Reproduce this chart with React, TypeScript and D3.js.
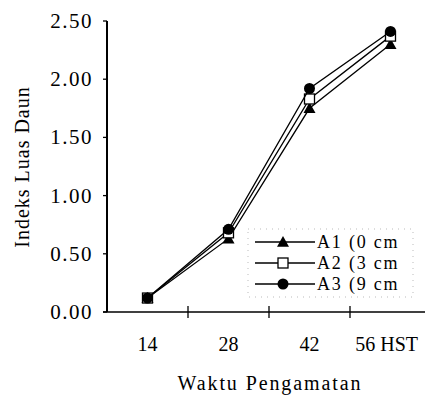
import React from "react";
import * as d3 from "d3";

const categories = ["14", "28", "42", "56 HST"];
const seriesNames = ["A1 (0 cm", "A2 (3 cm", "A3 (9 cm"];
const a1 = [0.12, 0.63, 1.75, 2.3];
const a2 = [0.12, 0.68, 1.83, 2.37];
const a3 = [0.12, 0.71, 1.92, 2.41];
const yTicks = [0, 0.5, 1, 1.5, 2, 2.5];

const W = 425, H = 398;
const x0 = 107, x1 = 431, yBottom = 312, yTop = 21;
const FONT = "Liberation Serif";

export default function App() {
  const x = d3.scaleBand<string>().domain(categories).range([x0, x1]);
  const y = d3.scaleLinear().domain([0, 2.5]).range([yBottom, yTop]);
  const line = d3.line<number>().x((_, i) => x(categories[i])! + x.bandwidth() / 2).y((d) => y(d));
  const series = [a1, a2, a3];
  const marker = (k: number, cx: number, cy: number, key: any) => {
    if (k === 0) {
      const s = 6;
      return <path key={key} d={`M${cx},${cy - s} L${cx + s},${cy + s * 0.8} L${cx - s},${cy + s * 0.8} Z`} fill="#000" />;
    }
    if (k === 1) return <rect key={key} x={cx - 5} y={cy - 5} width={10} height={10} fill="#fff" stroke="#000" strokeWidth={1.3} />;
    return <circle key={key} cx={cx} cy={cy} r={5.5} fill="#000" />;
  };
  const legX = 248, legY = 229;
  return (
    <svg width={W} height={H} style={{ position: "absolute", left: 0, top: 0, background: "#fff" }}>
      {/* axes */}
      <line x1={x0} y1={yTop} x2={x0} y2={yBottom} stroke="#000" strokeWidth={2} />
      <line x1={x0 - 4} y1={yBottom} x2={W} y2={yBottom} stroke="#000" strokeWidth={1.6} />
      {yTicks.map((t) => (
        <g key={t}>
          <line x1={x0 - 4} x2={x0} y1={y(t)} y2={y(t)} stroke="#000" strokeWidth={1.3} />
          <text x={x0 - 14} y={y(t) + 7} textAnchor="end" fontSize={21} letterSpacing={1.5} fontFamily={FONT}>{t.toFixed(2)}</text>
        </g>
      ))}
      {categories.map((c, i) => (
        <g key={c}>
          {i > 0 && <line x1={x(c)} x2={x(c)} y1={yBottom - 6} y2={yBottom + 6} stroke="#000" strokeWidth={1.3} />}
          <text x={i === 3 ? 418 : x(c)! + x.bandwidth() / 2} y={351} textAnchor={i === 3 ? "end" : "middle"} fontSize={20} fontFamily={FONT}>{c}</text>
        </g>
      ))}
      <text x={270} y={390} textAnchor="middle" fontSize={20} letterSpacing={1.9} fontFamily={FONT}>Waktu Pengamatan</text>
      <text transform={`translate(29,167) rotate(-90)`} textAnchor="middle" fontSize={20} letterSpacing={1} fontFamily={FONT}>Indeks Luas Daun</text>
      {/* series */}
      {series.map((s, k) => (
        <g key={k}>
          <path d={line(s)!} fill="none" stroke="#000" strokeWidth={1.3} />
          {s.map((v, i) => marker(k, x(categories[i])! + x.bandwidth() / 2, y(v), i))}
        </g>
      ))}
      {/* legend */}
      <rect x={legX} y={legY} width={165} height={68} fill="#fff" stroke="#aaa" strokeWidth={0.8} strokeDasharray="1,5" />
      {seriesNames.map((n, k) => {
        const ly = legY + 13 + k * 21;
        return (
          <g key={n}>
            <line x1={legX + 7} x2={legX + 67} y1={ly} y2={ly} stroke="#000" strokeWidth={1.3} />
            {marker(k, legX + 35, ly, "m")}
            <text x={legX + 69} y={ly + 6} fontSize={18} letterSpacing={1.8} fontFamily={FONT}>{n}</text>
          </g>
        );
      })}
    </svg>
  );
}
